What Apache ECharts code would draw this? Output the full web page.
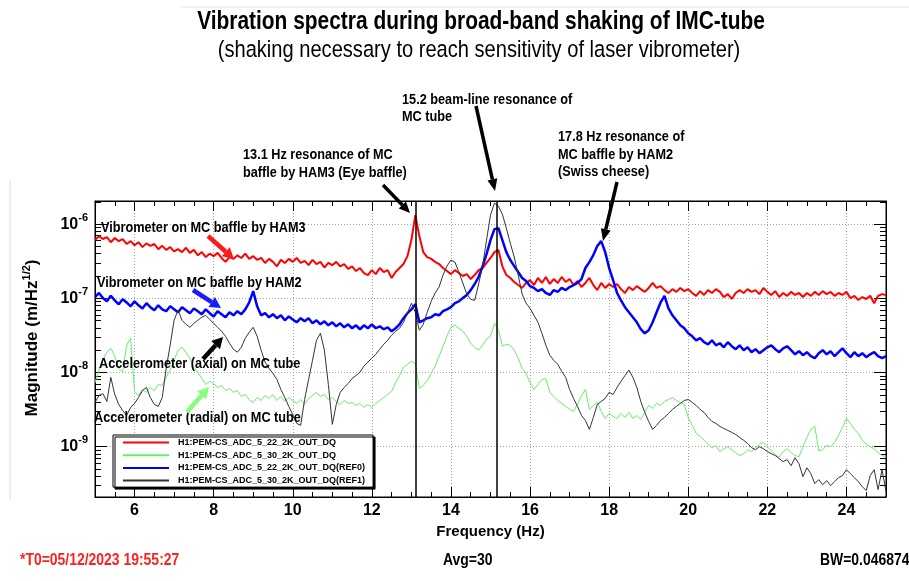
<!DOCTYPE html>
<html><head><meta charset="utf-8">
<script src="https://cdn.jsdelivr.net/npm/echarts@6/dist/echarts.min.js"></script>
<style>html,body{margin:0;padding:0;background:#fff}#c{width:909px;height:581px}</style>
</head><body><div id="c"></div>
<script>
// ---------------- DATA ----------------
const freqs = [
5.0,5.1,5.2,5.3,5.4,5.5,5.6,5.7,5.8,5.9,
6.0,6.1,6.2,6.3,6.4,6.5,6.6,6.7,6.8,6.9,
7.0,7.1,7.2,7.3,7.4,7.5,7.6,7.7,7.8,7.9,
8.0,8.1,8.2,8.3,8.4,8.5,8.6,8.7,8.8,8.9,
9.0,9.1,9.2,9.3,9.4,9.5,9.6,9.7,9.8,9.9,
10.0,10.1,10.2,10.3,10.4,10.5,10.6,10.7,10.8,10.9,
11.0,11.1,11.2,11.3,11.4,11.5,11.6,11.7,11.8,11.9,
12.0,12.1,12.2,12.3,12.4,12.5,12.6,12.7,12.8,12.9,
13.0,13.1,13.2,13.3,13.4,13.5,13.6,13.7,13.8,13.9,
14.0,14.1,14.2,14.3,14.4,14.5,14.6,14.7,14.8,14.9,
15.0,15.1,15.2,15.3,15.4,15.5,15.6,15.7,15.8,15.9,
16.0,16.1,16.2,16.3,16.4,16.5,16.6,16.7,16.8,16.9,
17.0,17.1,17.2,17.3,17.4,17.5,17.6,17.7,17.8,17.9,
18.0,18.1,18.2,18.3,18.4,18.5,18.6,18.7,18.8,18.9,
19.0,19.1,19.2,19.3,19.4,19.5,19.6,19.7,19.8,19.9,
20.0,20.1,20.2,20.3,20.4,20.5,20.6,20.7,20.8,20.9,
21.0,21.1,21.2,21.3,21.4,21.5,21.6,21.7,21.8,21.9,
22.0,22.1,22.2,22.3,22.4,22.5,22.6,22.7,22.8,22.9,
23.0,23.1,23.2,23.3,23.4,23.5,23.6,23.7,23.8,23.9,
24.0,24.1,24.2,24.3,24.4,24.5,24.6,24.7,24.8,24.9,
25.0];

// H1:PEM-CS_ADC_5_22_2K_OUT_DQ  (vibrometer, MC baffle by HAM3)
const vibHam3 = [
6.1e-7,6.9e-7,6.3e-7,6.7e-7,5.7e-7,6.5e-7,5.9e-7,6.3e-7,5.4e-7,5.9e-7,
5.2e-7,5.7e-7,4.9e-7,5.5e-7,5.1e-7,5.4e-7,4.6e-7,5.1e-7,4.5e-7,4.9e-7,
4.3e-7,4.6e-7,4.2e-7,4.8e-7,4.1e-7,4.5e-7,3.8e-7,4.2e-7,3.6e-7,4.0e-7,
3.7e-7,4.1e-7,3.5e-7,3.1e-7,3.6e-7,3.4e-7,3.8e-7,3.5e-7,4.0e-7,3.4e-7,
3.7e-7,3.3e-7,3.5e-7,3.0e-7,3.4e-7,3.1e-7,2.7e-7,3.3e-7,3.0e-7,3.4e-7,
3.1e-7,3.5e-7,3.0e-7,3.2e-7,2.8e-7,3.3e-7,2.9e-7,3.1e-7,2.6e-7,3.0e-7,
2.8e-7,3.1e-7,2.7e-7,2.9e-7,2.5e-7,2.7e-7,2.33e-7,2.56e-7,2.19e-7,2.06e-7,
2.4e-7,2.12e-7,2.56e-7,2.26e-7,2.4e-7,1.88e-7,2.26e-7,2.56e-7,2.9e-7,3.7e-7,
6.1e-7,1.32e-6,6.9e-7,4.2e-7,3.6e-7,3.4e-7,3.1e-7,2.9e-7,2.56e-7,2.33e-7,
2.12e-7,2.4e-7,2.19e-7,2.0e-7,2.12e-7,1.82e-7,2.06e-7,2.4e-7,2.56e-7,3.0e-7,
3.5e-7,4.2e-7,4.5e-7,2.7e-7,2.06e-7,1.88e-7,1.66e-7,1.51e-7,1.38e-7,1.61e-7,
1.76e-7,1.51e-7,1.88e-7,1.61e-7,1.94e-7,1.56e-7,1.82e-7,1.61e-7,1.94e-7,1.66e-7,
1.82e-7,1.51e-7,1.71e-7,1.42e-7,1.61e-7,1.88e-7,1.51e-7,1.29e-7,1.61e-7,1.38e-7,
1.56e-7,1.42e-7,1.56e-7,1.33e-7,1.18e-7,1.42e-7,1.29e-7,1.46e-7,1.33e-7,1.22e-7,
1.38e-7,1.61e-7,1.38e-7,1.46e-7,1.29e-7,1.18e-7,1.33e-7,1.22e-7,1.38e-7,1.25e-7,
1.33e-7,1.18e-7,1.08e-7,1.25e-7,1.11e-7,1.29e-7,1.18e-7,1.33e-7,1.22e-7,1.04e-7,
1.14e-7,9.8e-8,1.18e-7,1.29e-7,1.18e-7,1.33e-7,1.22e-7,1.29e-7,1.14e-7,1.38e-7,
1.22e-7,1.11e-7,1.25e-7,1.04e-7,1.18e-7,1.08e-7,1.22e-7,1.11e-7,1.18e-7,1.04e-7,
1.18e-7,1.08e-7,1.22e-7,1.11e-7,1.25e-7,1.14e-7,1.22e-7,1.08e-7,1.18e-7,1.11e-7,
1.22e-7,1.01e-7,1.08e-7,9.5e-8,1.04e-7,9.8e-8,1.08e-7,8.6e-8,1.08e-7,1.14e-7,
1.11e-7];

// H1:PEM-CS_ADC_5_30_2K_OUT_DQ  (accelerometer radial)
const accRadial = [
7.3e-9,1.08e-8,1.46e-8,1.88e-8,2.12e-8,1.66e-8,1.14e-8,1.01e-8,2.33e-8,2.9e-8,
5.55e-9,4.9e-9,5.9e-9,5.4e-9,6.3e-9,5.7e-9,6.9e-9,6.7e-9,8.6e-9,1.08e-8,
1.46e-8,2.0e-8,2.19e-8,1.88e-8,1.56e-8,1.18e-8,1.0e-8,8.3e-9,6.9e-9,7.6e-9,
7.1e-9,6.3e-9,6.7e-9,5.7e-9,6.1e-9,5.4e-9,5.7e-9,4.75e-9,5.06e-9,4.33e-9,
3.95e-9,4.6e-9,4.2e-9,4.9e-9,4.47e-9,5.06e-9,4.2e-9,4.75e-9,4.07e-9,4.6e-9,
4.2e-9,3.83e-9,4.33e-9,3.71e-9,4.47e-9,4.9e-9,5.4e-9,4.75e-9,5.06e-9,4.33e-9,
4.6e-9,4.07e-9,3.71e-9,4.2e-9,3.83e-9,3.95e-9,3.6e-9,3.83e-9,3.38e-9,3.71e-9,
3.38e-9,3.83e-9,4.2e-9,4.6e-9,5.06e-9,5.55e-9,7.3e-9,9.1e-9,1.18e-8,1.29e-8,
1.42e-8,1.33e-8,6.1e-9,6.7e-9,7.8e-9,9.7e-9,1.22e-8,1.66e-8,2.26e-8,3.08e-8,
4.07e-8,4.33e-8,3.95e-8,3.6e-8,3.08e-8,2.48e-8,2.19e-8,2.0e-8,2.33e-8,2.81e-8,
3.08e-8,4.6e-8,3.71e-8,2.26e-8,2.4e-8,2.33e-8,2.0e-8,1.56e-8,1.14e-8,9.7e-9,
7.3e-9,5.9e-9,6.9e-9,8.05e-9,8.3e-9,5.4e-9,4.75e-9,4.2e-9,3.83e-9,3.49e-9,
3.18e-9,2.99e-9,3.71e-9,4.9e-9,5.9e-9,3.18e-9,3.6e-9,3.95e-9,2.99e-9,2.4e-9,
2.81e-9,2.56e-9,2.4e-9,2.81e-9,2.48e-9,2.9e-9,2.4e-9,2.64e-9,2.33e-9,2.9e-9,
3.6e-9,3.28e-9,3.83e-9,3.6e-9,4.07e-9,4.33e-9,4.6e-9,4.2e-9,3.95e-9,3.71e-9,
2.48e-9,1.94e-9,1.51e-9,1.38e-9,1.22e-9,1.08e-9,9.7e-10,1.04e-9,8.6e-10,9.4e-10,
1.0e-9,9.1e-10,8.3e-10,7.6e-10,8.05e-10,9.1e-10,8.6e-10,9.7e-10,1.08e-9,1.14e-9,
1.0e-9,8.8e-10,7.8e-10,7.3e-10,8.6e-10,9.4e-10,8.3e-10,7.6e-10,7.3e-10,1.0e-9,
1.33e-9,1.71e-9,1.88e-9,8.8e-10,9.1e-10,1.04e-9,1.0e-9,1.14e-9,1.42e-9,1.82e-9,
2.4e-9,2.06e-9,1.71e-9,1.51e-9,1.22e-9,1.08e-9,1.0e-9,9.4e-10,8.3e-10,7.6e-10,
7.3e-10];

// H1:PEM-CS_ADC_5_22_2K_OUT_DQ(REF0)  (vibrometer, MC baffle by HAM2)
const vibHam2 = [
1.04e-7,1.18e-7,1.01e-7,9.1e-8,1.08e-7,9.4e-8,8.3e-8,9.7e-8,8.8e-8,7.8e-8,
9.1e-8,8.05e-8,7.3e-8,8.6e-8,7.6e-8,6.9e-8,8.05e-8,7.1e-8,6.7e-8,7.8e-8,
7.1e-8,6.5e-8,7.6e-8,6.9e-8,6.3e-8,7.3e-8,6.7e-8,6.1e-8,7.1e-8,6.3e-8,
5.7e-8,6.7e-8,6.1e-8,5.55e-8,6.5e-8,5.9e-8,6.7e-8,6.1e-8,7.1e-8,8.8e-8,
1.25e-7,7.8e-8,5.9e-8,6.3e-8,5.55e-8,6.1e-8,5.4e-8,5.9e-8,5.06e-8,5.7e-8,
5.2e-8,4.75e-8,5.4e-8,4.9e-8,5.4e-8,4.6e-8,5.06e-8,4.47e-8,4.9e-8,4.33e-8,
4.75e-8,4.2e-8,4.6e-8,4.07e-8,4.47e-8,3.95e-8,4.33e-8,3.83e-8,4.33e-8,3.95e-8,
4.47e-8,3.95e-8,4.2e-8,3.83e-8,4.07e-8,3.6e-8,3.95e-8,4.47e-8,5.4e-8,6.3e-8,
7.1e-8,8.3e-8,4.75e-8,5.06e-8,5.4e-8,5.55e-8,6.1e-8,5.9e-8,6.7e-8,7.1e-8,
7.6e-8,8.6e-8,9.1e-8,1.01e-7,1.11e-7,1.29e-7,1.56e-7,1.94e-7,2.72e-7,3.95e-7,
6.1e-7,8.56e-7,8.84e-7,6.1e-7,4.2e-7,3.28e-7,2.72e-7,2.26e-7,1.88e-7,1.71e-7,
1.46e-7,1.38e-7,1.25e-7,1.33e-7,1.18e-7,1.11e-7,1.29e-7,1.22e-7,1.38e-7,1.29e-7,
1.42e-7,1.51e-7,1.61e-7,1.82e-7,2.56e-7,3.08e-7,3.83e-7,5.06e-7,5.9e-7,4.2e-7,
2.56e-7,1.76e-7,1.18e-7,9.4e-8,7.6e-8,6.5e-8,5.55e-8,4.75e-8,3.83e-8,3.38e-8,
3.71e-8,4.75e-8,6.5e-8,8.8e-8,1.08e-7,7.3e-8,5.9e-8,5.06e-8,4.33e-8,3.95e-8,
3.38e-8,3.08e-8,2.72e-8,2.9e-8,2.56e-8,2.4e-8,2.72e-8,2.33e-8,2.48e-8,2.19e-8,
2.56e-8,2.26e-8,2.06e-8,2.33e-8,2.0e-8,2.19e-8,1.88e-8,2.06e-8,1.82e-8,2.0e-8,
2.19e-8,2.33e-8,2.06e-8,1.88e-8,2.12e-8,2.26e-8,2.0e-8,1.76e-8,1.94e-8,1.71e-8,
1.88e-8,1.66e-8,1.56e-8,1.82e-8,2.0e-8,1.76e-8,1.94e-8,1.66e-8,1.88e-8,2.12e-8,
1.82e-8,1.61e-8,1.88e-8,1.66e-8,1.82e-8,1.61e-8,1.76e-8,1.88e-8,1.66e-8,1.56e-8,
1.66e-8];

// H1:PEM-CS_ADC_5_30_2K_OUT_DQ(REF1)  (accelerometer axial)
const accAxial = [
3.95e-9,4.9e-9,5.2e-9,4.07e-9,8.6e-9,5.06e-9,3.71e-9,3.08e-9,2.64e-9,3.38e-9,
3.83e-9,4.6e-9,5.7e-9,6.3e-9,4.6e-9,3.71e-9,3.49e-9,4.6e-9,1.14e-8,2.33e-8,
5.06e-8,6.9e-8,5.06e-8,4.47e-8,4.07e-8,4.6e-8,5.06e-8,5.55e-8,5.9e-8,5.2e-8,
4.6e-8,4.07e-8,3.6e-8,3.08e-8,2.48e-8,2.06e-8,1.88e-8,2.19e-8,2.9e-8,3.49e-8,
4.07e-8,3.08e-8,2.0e-8,1.38e-8,1.14e-8,9.7e-9,8.05e-9,5.9e-9,4.6e-9,3.49e-9,
2.72e-9,2.06e-9,1.94e-9,4.33e-9,8.05e-9,1.46e-8,2.72e-8,3.38e-8,2.0e-8,6.9e-9,
2.0e-9,3.71e-9,5.4e-9,6.3e-9,7.1e-9,8.3e-9,9.1e-9,1.01e-8,1.22e-8,1.38e-8,
1.56e-8,1.76e-8,2.06e-8,2.4e-8,2.72e-8,3.18e-8,3.6e-8,3.95e-8,4.75e-8,6.3e-8,
8.6e-8,6.5e-8,3.71e-8,4.47e-8,6.5e-8,9.1e-8,1.18e-7,1.42e-7,2.06e-7,2.72e-7,
3.28e-7,3.08e-7,2.26e-7,1.61e-7,1.14e-7,9.7e-8,9.4e-8,1.56e-7,2.72e-7,6.09e-7,
1.32e-6,1.92e-6,1.75e-6,1.36e-6,8.84e-7,5.55e-7,3.6e-7,2.06e-7,1.14e-7,8.6e-8,
7.3e-8,5.9e-8,4.75e-8,3.38e-8,2.33e-8,1.71e-8,1.46e-8,1.29e-8,1.04e-8,8.6e-9,
5.9e-9,4.47e-9,3.49e-9,2.64e-9,2.26e-9,1.71e-9,2.48e-9,3.71e-9,4.07e-9,4.47e-9,
5.4e-9,5.06e-9,6.3e-9,7.6e-9,9.1e-9,1.08e-8,8.6e-9,6.3e-9,4.07e-9,2.9e-9,
2.19e-9,1.71e-9,1.94e-9,2.26e-9,2.48e-9,2.81e-9,3.18e-9,3.49e-9,3.83e-9,4.2e-9,
4.33e-9,3.95e-9,3.6e-9,3.18e-9,2.9e-9,2.48e-9,2.19e-9,2.06e-9,1.88e-9,1.76e-9,
1.66e-9,1.56e-9,1.46e-9,1.33e-9,1.22e-9,1.11e-9,9.7e-10,9.1e-10,1.0e-9,9.4e-10,
8.6e-10,8.05e-10,7.6e-10,6.9e-10,6.3e-10,6.7e-10,5.55e-10,7.1e-10,5.9e-10,3.95e-10,
5.2e-10,4.33e-10,3.18e-10,3.6e-10,3.08e-10,3.49e-10,2.99e-10,3.38e-10,3.83e-10,4.07e-10,
4.9e-10,4.33e-10,3.83e-10,3.38e-10,2.9e-10,2.56e-10,4.07e-10,4.9e-10,2.64e-10,4.9e-10,
2.48e-10];

const seriesNames = [
  'H1:PEM-CS_ADC_5_22_2K_OUT_DQ',
  'H1:PEM-CS_ADC_5_30_2K_OUT_DQ',
  'H1:PEM-CS_ADC_5_22_2K_OUT_DQ(REF0)',
  'H1:PEM-CS_ADC_5_30_2K_OUT_DQ(REF1)'
];
const resonanceLines = [13.12, 15.15];
const xRange = [5, 25];
const yRange = [2.1e-10, 2.05e-6];
const yMinorTicks = [
  3e-10,4e-10,5e-10,6e-10,7e-10,8e-10,9e-10,
  2e-9,3e-9,4e-9,5e-9,6e-9,7e-9,8e-9,9e-9,
  2e-8,3e-8,4e-8,5e-8,6e-8,7e-8,8e-8,9e-8,
  2e-7,3e-7,4e-7,5e-7,6e-7,7e-7,8e-7,9e-7,
  2e-6
];

// ---------------- STYLE / LAYOUT ----------------
const FONT = "'Liberation Sans',Arial,sans-serif";
const NARROW_SCALE = 0.82;
const colors = ['#ff0000', '#66f066', '#0000ff', '#333333'];
const widths = [2, 1, 2.5, 1];

function txt(x, y, text, size, opts) {
  opts = opts || {};
  return {
    type: 'text', x: x, y: y, z: 100, silent: true, scaleX: NARROW_SCALE,
    style: {
      text: text, fill: opts.color || '#000', fontSize: size,
      fontWeight: opts.weight || 'bold', fontFamily: FONT,
      align: opts.align || 'left', verticalAlign: 'middle'
    }
  };
}
function arrow(x1, y1, x2, y2, color, w, hl, hw) {
  const dx = x2 - x1, dy = y2 - y1, L = Math.hypot(dx, dy);
  const ux = dx / L, uy = dy / L;
  const bx = x2 - ux * hl, by = y2 - uy * hl;
  const px = -uy, py = ux;
  return [
    { type: 'line', z: 100, silent: true, shape: { x1: x1, y1: y1, x2: bx, y2: by },
      style: { stroke: color, lineWidth: w } },
    { type: 'polygon', z: 100, silent: true,
      shape: { points: [[x2, y2], [bx + px * hw, by + py * hw], [bx - px * hw, by - py * hw]] },
      style: { fill: color } }
  ];
}

const graphics = [].concat(
  [
    { type: 'line', silent: true, shape: { x1: 10, y1: 180, x2: 10, y2: 500 }, style: { stroke: '#dedede', lineWidth: 1 } },
    { type: 'line', silent: true, shape: { x1: 180, y1: 7, x2: 909, y2: 7 }, style: { stroke: '#e6e6e6', lineWidth: 1 } },
    txt(481, 22, 'Vibration spectra during broad-band shaking of IMC-tube', 25.5, { align: 'center' }),
    txt(479, 50, '(shaking necessary to reach sensitivity of laser vibrometer)', 24.5, { align: 'center', weight: 'normal' }),
    txt(402, 100, '15.2 beam-line resonance of', 15.5),
    txt(402, 117, 'MC tube', 15.5),
    txt(558, 137, '17.8 Hz resonance of', 15.5),
    txt(558, 155, 'MC baffle by HAM2', 15.5),
    txt(558, 172, '(Swiss cheese)', 15.5),
    txt(243, 155, '13.1 Hz resonance of MC', 15.5),
    txt(243, 173, 'baffle by HAM3 (Eye baffle)', 15.5),
    txt(101, 228, 'Vibrometer on MC baffle by HAM3', 15.5),
    txt(97, 283, 'Vibrometer on MC baffle by HAM2', 15.5),
    txt(99, 364, 'Accelerometer (axial) on MC tube', 15.5),
    txt(94, 418, 'Accelerometer (radial) on MC tube', 15.5),
    txt(20, 560, '*T0=05/12/2023 19:55:27', 17, { color: '#ff2020' }),
    txt(443, 560, 'Avg=30', 17),
    txt(820, 560, 'BW=0.046874', 17)
  ],
  arrow(476, 106, 495, 191, '#000', 3.5, 12, 5),
  arrow(383, 185, 410, 213, '#000', 3.5, 11, 5),
  arrow(617, 182, 603, 241, '#000', 3.5, 12, 5),
  arrow(208, 236, 234, 259, '#ff1a1a', 4.5, 11, 6),
  arrow(193, 290, 221, 308, '#1a1aff', 4.5, 11, 6),
  arrow(203, 359, 223, 337, '#000', 4.5, 11, 6),
  arrow(187, 412, 209, 387, '#80ff80', 4.5, 11, 6)
);

function yLabel(v) {
  const e = Math.log10(v), r = Math.round(e);
  if (Math.abs(e - r) > 0.01) return '';
  return '{b|10}{s|' + r + '}';
}
function xLabel(v) { return (Math.abs(v % 2) < 1e-9) ? String(v) : ''; }

const tickLine = { color: '#000', width: 1 };
const baseX = { type: 'value', min: xRange[0], max: xRange[1], splitNumber: 10, minInterval: 2, maxInterval: 2, gridIndex: 0 };
const baseY = { type: 'log', logBase: 10, min: yRange[0], max: yRange[1], gridIndex: 0 };

const option = {
  animation: false,
  backgroundColor: '#fff',
  graphic: { elements: graphics },
  legend: {
    left: 113, top: 435, orient: 'vertical',
    itemWidth: 46, itemHeight: 10, itemGap: 1.7,
    padding: [2, 8, 1, 9],
    backgroundColor: '#fff', borderColor: '#000', borderWidth: 1,
    shadowColor: '#000', shadowOffsetX: 2, shadowOffsetY: 2, shadowBlur: 0,
    selectedMode: false,
    itemStyle: { opacity: 0 },
    textStyle: { fontSize: 9, lineHeight: 11, fontWeight: 'bold', fontFamily: FONT, color: '#000', padding: [0, 0, 0, 4] },
    data: seriesNames
  },
  grid: { left: 95, top: 201, width: 791, height: 296, show: true, borderColor: '#000', borderWidth: 1, backgroundColor: '#fff' },
  xAxis: [
    Object.assign({}, baseX, {
      position: 'bottom',
      axisLine: { show: true, onZero: false, lineStyle: tickLine },
      axisTick: { show: true, inside: true, length: 10, lineStyle: tickLine },
      minorTick: { show: true, splitNumber: 4, length: 5, lineStyle: tickLine },
      axisLabel: { show: true, margin: 6, formatter: xLabel, showMinLabel: false, showMaxLabel: false,
        color: '#000', fontSize: 16, fontWeight: 'bold', fontFamily: FONT },
      splitLine: { show: true, lineStyle: { color: '#a0a0a0', width: 1, type: [1, 2] } },
      name: 'Frequency (Hz)', nameLocation: 'middle', nameGap: 26,
      nameTextStyle: { color: '#000', fontSize: 15, fontWeight: 'bold', fontFamily: FONT }
    }),
    Object.assign({}, baseX, {
      position: 'top',
      axisLine: { show: true, onZero: false, lineStyle: tickLine },
      axisTick: { show: true, inside: true, length: 10, lineStyle: tickLine },
      minorTick: { show: true, splitNumber: 4, length: 5, lineStyle: tickLine },
      axisLabel: { show: false }, splitLine: { show: false }
    })
  ],
  yAxis: [
    Object.assign({}, baseY, {
      position: 'left',
      axisLine: { show: true, onZero: false, lineStyle: tickLine },
      axisTick: { show: true, inside: true, length: 12, lineStyle: tickLine },
      axisLabel: { show: true, margin: 7, formatter: yLabel, showMinLabel: false, showMaxLabel: false,
        rich: {
          b: { fontSize: 16, fontWeight: 'bold', fontFamily: FONT, color: '#000' },
          s: { fontSize: 11, fontWeight: 'bold', fontFamily: FONT, color: '#000', padding: [0, 0, 13, 0] }
        } },
      splitLine: { show: true, lineStyle: { color: '#a0a0a0', width: 1, type: [1, 2] } },
      name: '{a|Magnitude (m/Hz}{s|1/2}{a|)}', nameLocation: 'middle', nameGap: 52, nameRotate: 90,
      nameTextStyle: { padding: [0, 0, 0, 22],
        rich: {
          a: { fontSize: 17, fontWeight: 'bold', fontFamily: FONT, color: '#000' },
          s: { fontSize: 11, fontWeight: 'bold', fontFamily: FONT, color: '#000', padding: [0, 0, 11, 0] }
        } }
    }),
    Object.assign({}, baseY, {
      position: 'left',
      axisLine: { show: false },
      axisTick: { show: true, inside: true, length: 6, lineStyle: tickLine, customValues: yMinorTicks },
      axisLabel: { show: false }, splitLine: { show: false }
    }),
    Object.assign({}, baseY, {
      position: 'right',
      axisLine: { show: true, onZero: false, lineStyle: tickLine },
      axisTick: { show: true, inside: true, length: 12, lineStyle: tickLine },
      axisLabel: { show: false }, splitLine: { show: false }
    }),
    Object.assign({}, baseY, {
      position: 'right',
      axisLine: { show: false },
      axisTick: { show: true, inside: true, length: 6, lineStyle: tickLine, customValues: yMinorTicks },
      axisLabel: { show: false }, splitLine: { show: false }
    })
  ],
  series: [vibHam3, accRadial, vibHam2, accAxial].map(function (vals, k) {
    const s = {
      type: 'line', name: seriesNames[k], xAxisIndex: 0, yAxisIndex: 0,
      data: freqs.map(function (f, i) { return [f, vals[i]]; }),
      symbol: 'none', showSymbol: false, silent: true,
      lineStyle: { color: colors[k], width: widths[k] },
      itemStyle: { color: colors[k] },
      emphasis: { disabled: true }
    };
    if (k === 0) {
      s.markLine = {
        silent: true, symbol: ['none', 'none'], label: { show: false },
        lineStyle: { color: '#000', width: 1.5, type: 'solid' },
        emphasis: { disabled: true },
        data: resonanceLines.map(function (f) { return { xAxis: f }; })
      };
    }
    return s;
  })
};

const chart = echarts.init(document.getElementById('c'), null, { renderer: 'canvas' });
chart.setOption(option);
</script>
</body></html>
